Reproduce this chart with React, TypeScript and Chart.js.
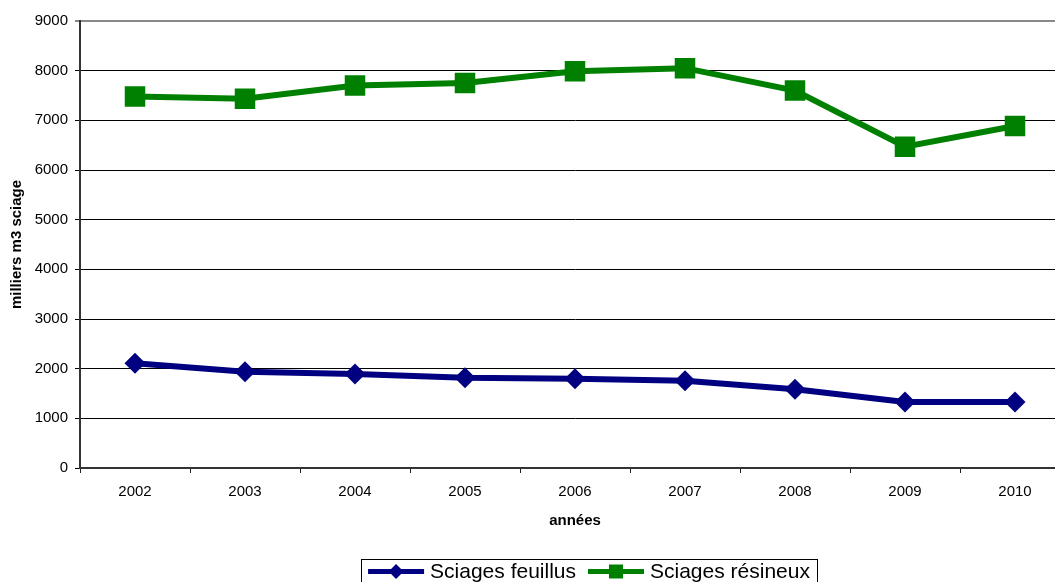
import React, { useEffect, useRef } from "react";
import { Chart, registerables } from "chart.js";

Chart.register(...registerables);

// Production de sciages (milliers de m3), 2002–2010
const years = ["2002", "2003", "2004", "2005", "2006", "2007", "2008", "2009", "2010"];
const feuillus = [2110, 1940, 1895, 1815, 1795, 1755, 1585, 1330, 1330];
const resineux = [7480, 7435, 7700, 7750, 7990, 8050, 7600, 6470, 6885];
const seriesNames = ["Sciages feuillus", "Sciages résineux"];
const yTicks = [0, 1000, 2000, 3000, 4000, 5000, 6000, 7000, 8000, 9000];

const BLUE = "#000080";
const GREEN = "#008000";
const FONT = "Arial, 'Liberation Sans', sans-serif";

// Boxed legend at the bottom: line + marker sample, then the series name
const boxedLegend = {
  id: "boxedLegend",
  afterDraw(chart: any, _args: any, opts: any) {
    const ctx = chart.ctx as CanvasRenderingContext2D;
    const sets = chart.data.datasets;
    ctx.save();
    ctx.font = `21px ${FONT}`;
    const sample = 56;
    const gap = 6;
    const itemGap = 12;
    const widths = sets.map((d: any) => ctx.measureText(d.label).width);
    const total =
      widths.reduce((a: number, w: number) => a + sample + gap + w, 0) + itemGap * (sets.length - 1);
    const padX = 7;
    const boxW = total + padX * 2;
    const left = opts.centerX - boxW / 2;
    const top = opts.top;
    ctx.strokeStyle = "#000";
    ctx.lineWidth = 1;
    ctx.strokeRect(Math.round(left) + 0.5, top + 0.5, Math.round(boxW), 40);
    let x = left + padX;
    const cy = opts.top + 12.5;
    sets.forEach((d: any, i: number) => {
      ctx.strokeStyle = d.borderColor;
      ctx.lineWidth = 5;
      ctx.beginPath();
      ctx.moveTo(x, cy);
      ctx.lineTo(x + sample, cy);
      ctx.stroke();
      const mx = x + sample / 2;
      ctx.fillStyle = d.borderColor;
      ctx.beginPath();
      if (d.pointStyle === "rectRot") {
        const r = 7.5;
        ctx.moveTo(mx, cy - r);
        ctx.lineTo(mx + r, cy);
        ctx.lineTo(mx, cy + r);
        ctx.lineTo(mx - r, cy);
        ctx.closePath();
      } else {
        ctx.rect(mx - 7, cy - 7, 14, 14);
      }
      ctx.fill();
      ctx.fillStyle = "#000";
      ctx.textBaseline = "middle";
      ctx.textAlign = "left";
      ctx.fillText(d.label, x + sample + gap, cy + 1);
      x += sample + gap + widths[i] + itemGap;
    });
    ctx.restore();
  },
};

export default function App() {
  const canvasRef = useRef<HTMLCanvasElement | null>(null);

  useEffect(() => {
    if (!canvasRef.current) return;
    const chart = new Chart(canvasRef.current, {
      type: "line",
      data: {
        labels: years,
        datasets: [
          {
            label: seriesNames[0],
            data: feuillus,
            borderColor: BLUE,
            backgroundColor: BLUE,
            borderWidth: 6,
            pointStyle: "rectRot",
            pointRadius: 10.5,
            pointBorderWidth: 0,
            pointBackgroundColor: BLUE,
            tension: 0,
          },
          {
            label: seriesNames[1],
            data: resineux,
            borderColor: GREEN,
            backgroundColor: GREEN,
            borderWidth: 6,
            pointStyle: "rect",
            pointRadius: 14.5,
            pointBorderWidth: 0,
            pointBackgroundColor: GREEN,
            tension: 0,
          },
        ],
      },
      plugins: [boxedLegend],
      options: {
        animation: false,
        responsive: false,
        maintainAspectRatio: false,
        devicePixelRatio: 1,
        layout: { autoPadding: false, padding: { top: 21, left: 0, right: 0, bottom: 52 } },
        plugins: {
          legend: { display: false },
          tooltip: { enabled: false },
          boxedLegend: { centerX: 589, top: 559 },
        } as any,
        scales: {
          x: {
            type: "category",
            offset: true,
            grid: {
              display: true,
              drawOnChartArea: false,
              drawTicks: true,
              offset: true,
              tickLength: 5,
              color: "#222",
            },
            border: { display: true, color: "#333", width: 2 },
            ticks: {
              color: "#000",
              font: { family: FONT, size: 15 },
              padding: 10,
              maxRotation: 0,
            },
            title: {
              display: true,
              text: "années",
              color: "#000",
              font: { family: FONT, size: 15, weight: "bold" },
              padding: { top: 6, bottom: 0 },
            },
            afterFit: (s: any) => {
              s.height = 62;
              s.paddingLeft = 0;
              s.paddingRight = 0;
            },
          },
          y: {
            min: 0,
            max: 9000,
            afterBuildTicks: (s: any) => {
              s.ticks = yTicks.map((v) => ({ value: v }));
            },
            grid: {
              color: (c: any) => (c.tick && c.tick.value === 9000 ? "#888" : "#000"),
              lineWidth: (c: any) => (c.tick && c.tick.value === 9000 ? 2 : 1),
              tickLength: 5,
            },
            border: { display: true, color: "#333", width: 2 },
            ticks: {
              color: "#000",
              font: { family: FONT, size: 15 },
              padding: 7,
              callback: (v: any) => String(v),
            },
            title: {
              display: true,
              text: "milliers m3 sciage",
              color: "#000",
              font: { family: FONT, size: 15, weight: "bold" },
              padding: { top: 8, bottom: 0 },
            },
            afterFit: (s: any) => {
              s.width = 80;
            },
          },
        },
      },
    });
    return () => chart.destroy();
  }, []);

  return (
    <div
      style={{
        position: "fixed",
        left: 0,
        top: 0,
        width: 1055,
        height: 582,
        overflow: "hidden",
        background: "#fff",
      }}
    >
      <canvas ref={canvasRef} width={1070} height={582} style={{ display: "block", width: 1070, height: 582 }} />
    </div>
  );
}
